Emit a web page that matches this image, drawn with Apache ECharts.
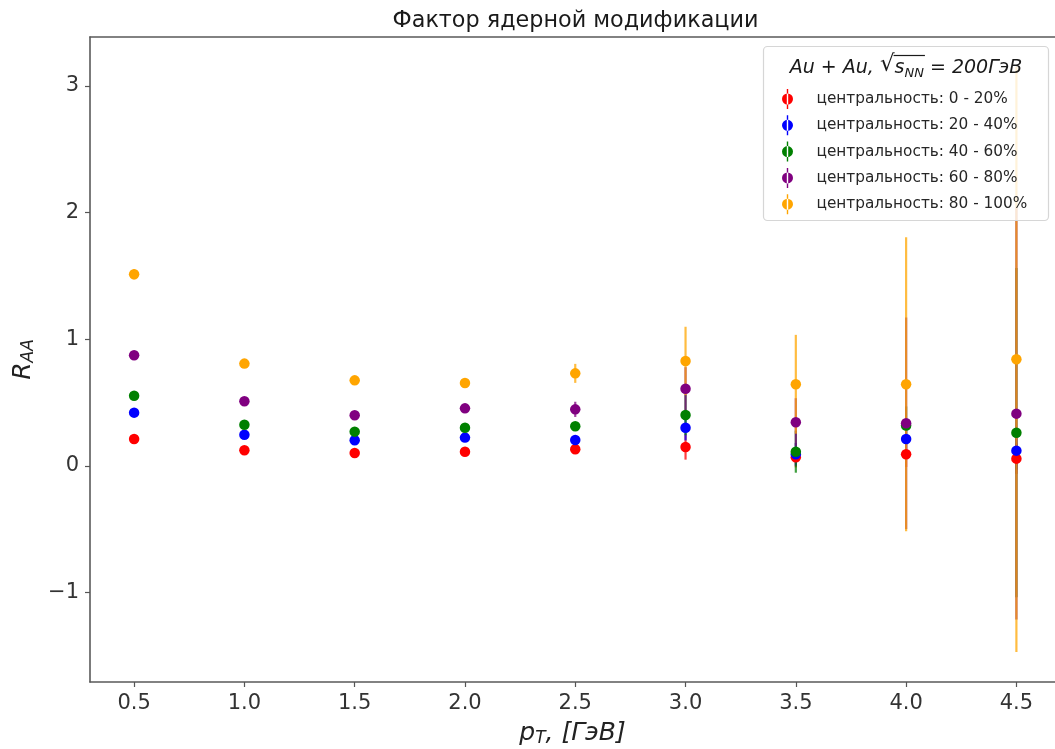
<!DOCTYPE html>
<html>
<head>
<meta charset="utf-8">
<script src="https://cdn.jsdelivr.net/npm/echarts@6/dist/echarts.min.js"></script>
<style>
  html, body { margin: 0; padding: 0; background: #fff; }
  #chart { width: 1055px; height: 749px; }
</style>
</head>
<body>
<div id="chart"></div>
<script>
// Nuclear modification factor R_AA vs p_T for Au+Au at 200 GeV, by centrality class
const pT = [0.5, 1.0, 1.5, 2.0, 2.5, 3.0, 3.5, 4.0, 4.5];

const raa_0_20   = [0.213, 0.124, 0.103, 0.113, 0.132, 0.150, 0.069, 0.092, 0.058];
const err_0_20   = [0.010, 0.010, 0.010, 0.010, 0.020, 0.100, 0.080, 0.100, 0.120];
const raa_20_40  = [0.421, 0.247, 0.203, 0.224, 0.205, 0.302, 0.092, 0.213, 0.121];
const err_20_40  = [0.015, 0.015, 0.010, 0.010, 0.020, 0.100, 0.090, 0.120, 0.150];
const raa_40_60  = [0.555, 0.326, 0.271, 0.302, 0.313, 0.403, 0.113, 0.320, 0.263];
const err_40_60  = [0.020, 0.020, 0.015, 0.015, 0.030, 0.160, 0.166, 0.150, 1.300];
const raa_60_80  = [0.874, 0.511, 0.400, 0.455, 0.447, 0.610, 0.345, 0.337, 0.413];
const err_60_80  = [0.030, 0.020, 0.020, 0.020, 0.060, 0.170, 0.190, 0.835, 1.625];
const raa_80_100 = [1.513, 0.808, 0.676, 0.655, 0.731, 0.829, 0.645, 0.645, 0.842];
const err_80_100 = [0.040, 0.030, 0.030, 0.030, 0.075, 0.270, 0.390, 1.160, 2.310];

const groupNames = [
  'центральность: 0 - 20%',
  'центральность: 20 - 40%',
  'центральность: 40 - 60%',
  'центральность: 60 - 80%',
  'центральность: 80 - 100%'
];
const groupColors = ['#ff0000', '#0000ff', '#008000', '#800080', '#ffa500'];
const groupValues = [raa_0_20, raa_20_40, raa_40_60, raa_60_80, raa_80_100];
const groupErrors = [err_0_20, err_20_40, err_40_60, err_60_80, err_80_100];

const xTicks = [0.5, 1.0, 1.5, 2.0, 2.5, 3.0, 3.5, 4.0, 4.5];
const yTicks = [-1, 0, 1, 2, 3];

const chart = echarts.init(document.getElementById('chart'), null, { renderer: 'canvas' });

const FONT = 'DejaVu Sans';
const FRAME = '#5a5a5a';
const series = [];

// error bars first (drawn beneath every marker)
groupNames.forEach((name, gi) => {
  series.push({
    type: 'custom',
    name: 'err' + gi,
    z: 1,
    silent: true,
    encode: { x: 0, y: 1 },
    data: pT.map((x, i) => [x, groupValues[gi][i], groupErrors[gi][i]]),
    renderItem: (params, api) => {
      const x = api.value(0), y = api.value(1), e = api.value(2);
      const lo = api.coord([x, y - e]);
      const hi = api.coord([x, y + e]);
      return {
        type: 'line',
        shape: { x1: lo[0], y1: lo[1], x2: hi[0], y2: hi[1] },
        style: { stroke: groupColors[gi], lineWidth: 2.2, opacity: 0.75 }
      };
    }
  });
});

groupNames.forEach((name, gi) => {
  series.push({
    type: 'scatter',
    name: name,
    z: 2,
    symbol: 'circle',
    symbolSize: 10.5,
    itemStyle: { color: groupColors[gi], opacity: 1 },
    data: pT.map((x, i) => [x, groupValues[gi][i]])
  });
});

// legend heading: Au + Au, sqrt(s_NN) = 200ГэВ
const ctx = document.createElement('canvas').getContext('2d');
function textWidth(t, font) { ctx.font = font; return ctx.measureText(t).width; }
const fMain = 'italic 19px "' + FONT + '"';
const fRad = '23px "' + FONT + '"';
const fSub = 'italic 13px "' + FONT + '"';
const parts = [
  { t: 'Au + Au, ', f: fMain, y: 68 },
  { t: '√', f: fRad, y: 65 },
  { t: 's', f: fMain, y: 68 },
  { t: 'NN', f: fSub, y: 74 },
  { t: ' = 200ГэВ', f: fMain, y: 68 }
];
const widths = parts.map(p => textWidth(p.t, p.f));
const totalW = widths.reduce((a, b) => a + b, 0);
const headCx = 906;
let cursor = headCx - totalW / 2;
const headEls = [];
let barStart = 0, barEnd = 0;
parts.forEach((p, i) => {
  if (i === 2) barStart = cursor;
  headEls.push({
    type: 'text', x: cursor, y: p.y, z: 6,
    style: { text: p.t, font: p.f, fill: '#1a1a1a', align: 'left', verticalAlign: 'middle' }
  });
  cursor += widths[i];
  if (i === 3) barEnd = cursor;
});
headEls.push({
  type: 'line', z: 6,
  shape: { x1: barStart - 1, y1: 55.5, x2: barEnd + 1, y2: 55.5 },
  style: { stroke: '#1a1a1a', lineWidth: 1.2 }
});

const legendIcon = 'path://M5.3,0H6.7V20H5.3Z M0.5,10A5.5,5.5,0,1,0,11.5,10A5.5,5.5,0,1,0,0.5,10Z';

const nameRich = {
  i: { fontFamily: FONT, fontStyle: 'italic', fontSize: 25, color: '#222', lineHeight: 28 },
  s: { fontFamily: FONT, fontStyle: 'italic', fontSize: 17, color: '#222', lineHeight: 18, verticalAlign: 'bottom' }
};

const option = {
  animation: false,
  backgroundColor: '#ffffff',
  grid: { left: 90, top: 37, bottom: 67, right: 0, outerBoundsMode: 'none' },
  xAxis: [
    {
      type: 'value',
      min: 0.3, max: 4.675,
      axisLine: { show: true, onZero: false, lineStyle: { color: FRAME, width: 1.6 } },
      splitLine: { show: false },
      axisTick: { show: true, length: 5, lineStyle: { color: '#555', width: 1.2 }, customValues: xTicks },
      axisLabel: {
        customValues: xTicks,
        formatter: v => v.toFixed(1),
        color: '#333', fontFamily: FONT, fontSize: 21, margin: 11
      },
      name: '{i|p}{s|T}{i|, [ГэВ]}',
      nameLocation: 'middle',
      nameGap: 37,
      nameTextStyle: { rich: nameRich }
    },
    {
      // top frame edge
      type: 'value',
      position: 'top',
      min: 0.3, max: 4.675,
      axisLine: { show: true, onZero: false, lineStyle: { color: FRAME, width: 1.6 } },
      axisTick: { show: false },
      axisLabel: { show: false },
      splitLine: { show: false }
    }
  ],
  yAxis: {
    type: 'value',
    min: -1.705, max: 3.386,
    axisLine: { show: true, onZero: false, lineStyle: { color: FRAME, width: 1.6 } },
    splitLine: { show: false },
    axisTick: { show: true, length: 5, lineStyle: { color: '#555', width: 1.2 }, customValues: yTicks },
    axisLabel: {
      customValues: yTicks,
      formatter: v => (v < 0 ? '\u2212' + Math.abs(v) : String(v)),
      color: '#333', fontFamily: FONT, fontSize: 21, margin: 11
    },
    name: '{i|R}{s|AA}',
    nameLocation: 'middle',
    nameRotate: 90,
    nameGap: 52,
    nameTextStyle: { rich: nameRich }
  },
  legend: {
    show: true,
    orient: 'vertical',
    left: 782, top: 89,
    padding: 0,
    z: 6,
    data: groupNames,
    icon: legendIcon,
    itemWidth: 48, itemHeight: 20,
    itemGap: 6.3,
    selectedMode: false,
    textStyle: { fontFamily: FONT, fontSize: 15.3, color: '#262626', lineHeight: 20 }
  },
  graphic: [
    {
      type: 'text', x: 575.5, y: 21, z: 6,
      style: { text: 'Фактор ядерной модификации', font: '22.3px "' + FONT + '"', fill: '#1a1a1a', align: 'center', verticalAlign: 'middle' }
    },
    {
      type: 'rect', z: 5,
      shape: { x: 763.5, y: 46.5, width: 285, height: 174, r: 4 },
      style: { fill: 'rgba(255,255,255,0.8)', stroke: '#d6d6d6', lineWidth: 1.2 }
    },
    ...headEls
  ],
  series: series
};

chart.setOption(option);
</script>
</body>
</html>
